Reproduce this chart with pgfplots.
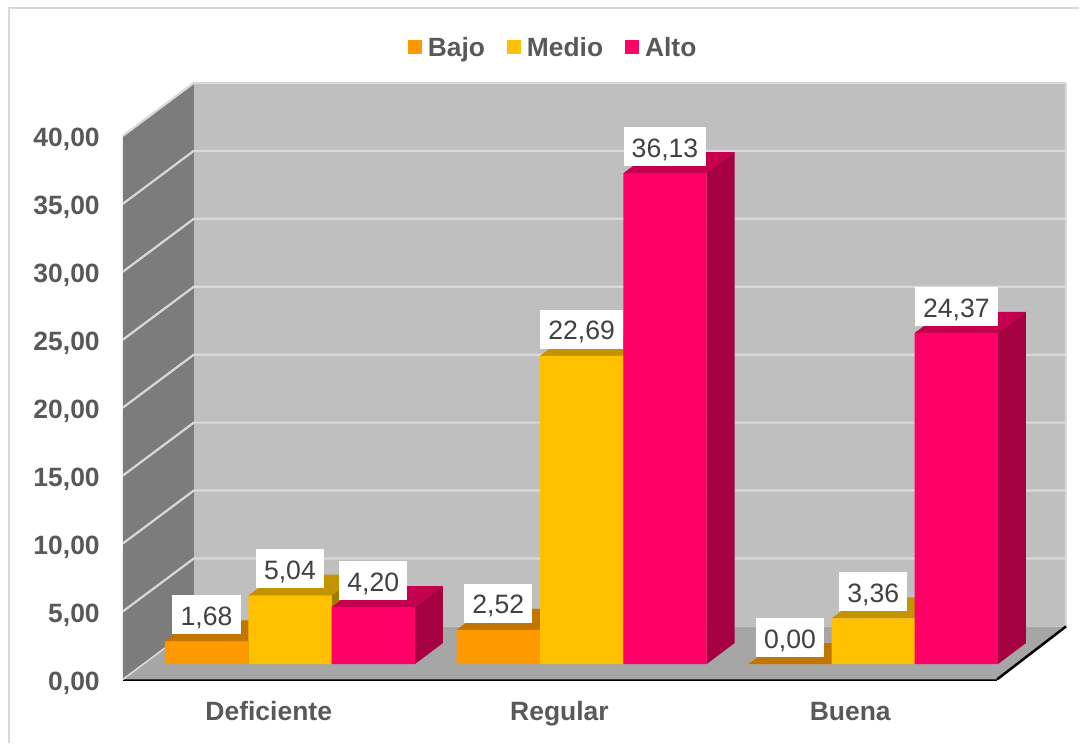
\documentclass[border=0pt]{standalone}
\usepackage{pgfplots}
\pgfplotsset{compat=1.18}
\usepackage{pgfplotstable}
\usepackage{fontspec}
\setmainfont{Liberation Sans}
\definecolor{txt}{HTML}{595959}
\definecolor{lbl}{HTML}{404040}
\definecolor{wallback}{HTML}{BFBFBF}
\definecolor{wallside}{HTML}{7C7C7C}
\definecolor{floorc}{HTML}{A6A6A6}
\definecolor{gridc}{HTML}{D9D9D9}
\definecolor{framec}{HTML}{D9D9D9}
\definecolor{cbajo}{HTML}{FF9900}
\definecolor{cbajot}{HTML}{C27500}
\definecolor{cbajos}{HTML}{A56300}
\definecolor{cmedio}{HTML}{FFC000}
\definecolor{cmediot}{HTML}{C49300}
\definecolor{cmedios}{HTML}{A57C00}
\definecolor{calto}{HTML}{FF0066}
\definecolor{caltot}{HTML}{C4004F}
\definecolor{caltos}{HTML}{A50042}
\pgfplotstableread{
x y
206.7 1.68
498.7 2.52
790.7 0.00
}\tbajo
\pgfplotstableread{
x y
290.2 5.04
582.2 22.69
874.0 3.36
}\tmedio
\pgfplotstableread{
x y
373.6 4.20
665.6 36.13
957.2 24.37
}\talto
\newcommand\barfaces[4]{%
  \pgfmathsetmacro\xa{#1-41.65}\pgfmathsetmacro\xb{#1+41.65}%
  \pgfmathsetmacro\xc{\xa+28}\pgfmathsetmacro\xd{\xb+28}%
  \pgfmathsetmacro\vb{#2+1.544}\pgfmathsetmacro\zb{1.544}%
  \addplot[fill=#3,draw=none,forget plot] coordinates {(\xa,#2)(\xb,#2)(\xd,\vb)(\xc,\vb)(\xa,#2)};
  \addplot[fill=#4,draw=none,forget plot] coordinates {(\xb,0)(\xd,\zb)(\xd,\vb)(\xb,#2)(\xb,0)};
}
\tikzset{
  nf/.style={/pgf/number format/fixed,/pgf/number format/fixed zerofill,/pgf/number format/precision=2,/pgf/number format/use comma,/pgf/number format/assume math mode=true},
}
\pgfplotsset{
  frontbar/.style={ybar,bar width=83.3pt,bar shift=0pt,draw=none,fill=#1},
  vallabel/.style={only marks,mark=none,forget plot,point meta=y,nodes near coords,
    every node near coord/.append style={nf,anchor=south,yshift=7pt,fill=white,text=lbl,
      font=\fontsize{26.6}{30}\selectfont,inner xsep=8.2pt,inner ysep=0pt,text height=30.3pt,text depth=8.7pt}},
}
\begin{document}
\begin{tikzpicture}
\begin{axis}[
  x=1pt,y=13.6pt,xmin=123,xmax=998,ymin=0,ymax=40,clip=false,
  axis x line*=bottom,axis y line*=left,
  x axis line style={draw=black,line width=2.5pt,-},
  y axis line style={draw=none},
  major tick length=0pt,tick style={draw=none},
  ytick={0,5,...,40},scaled y ticks=false,
  xtick={269,560,851},xticklabels={Deficiente,Regular,Buena},
  y tick label style={nf,anchor=base east,inner sep=0pt,xshift=-23pt,yshift=-11pt,
    text=txt,font=\fontsize{26.5}{30}\selectfont\bfseries},
  x tick label style={anchor=base,inner sep=0pt,yshift=-41pt,
    text=txt,font=\fontsize{26.5}{30}\selectfont\bfseries},
]
\path (axis cs:0,50) (axis cs:1080,-4.70588);
\draw[framec,line width=2pt] (axis cs:9,-4.70588) -- (axis cs:9,49.41) -- (axis cs:1080,49.41);
\fill[wallback] (axis cs:194,3.897) rectangle (axis cs:1067,43.897);
\fill[wallside] (axis cs:123,0) -- (axis cs:194,3.897) -- (axis cs:194,43.897) -- (axis cs:123,40) -- cycle;
\fill[floorc] (axis cs:123,0) -- (axis cs:998,0) -- (axis cs:1067,3.897) -- (axis cs:194,3.897) -- cycle;
\pgfplotsinvokeforeach{5,10,15,20,25,30,35,40}{
  \draw[gridc,line width=2.2pt] (axis cs:123,#1) -- (axis cs:194,#1+3.897) -- (axis cs:1067,#1+3.897);
}
\draw[gridc,line width=1.6pt] (axis cs:123,0) -- (axis cs:194,3.897);
\draw[gridc,line width=1.6pt] (axis cs:1067,43.897) -- (axis cs:1067,3.897);
\draw[black,line width=2.5pt] (axis cs:998,0) -- (axis cs:1067,3.897);
\end{axis}
\begin{axis}[
  at={(0pt,15.3pt)},anchor=south west,
  x=1pt,y=13.6pt,xmin=123,xmax=998,ymin=0,ymax=40,clip=false,hide axis,
  legend columns=3,
  legend style={at={(0.491,1.135)},anchor=center,draw=none,fill=none,
    font=\fontsize{26.4}{30}\selectfont\bfseries,text=txt,
    nodes={inner sep=0pt},
    /tikz/every even column/.append style={column sep=22pt},
    /tikz/every odd column/.append style={column sep=6pt}},
  legend image code/.code={\fill[#1,draw=none] (0pt,-7pt) rectangle (14pt,7pt);},
]
\barfaces{206.7}{1.68}{cbajot}{cbajos}
\barfaces{498.7}{2.52}{cbajot}{cbajos}
\barfaces{790.7}{0.00}{cbajot}{cbajos}
\addplot[frontbar=cbajo] table[x=x,y=y] {\tbajo};
\addlegendentry{Bajo}
\barfaces{290.2}{5.04}{cmediot}{cmedios}
\barfaces{582.2}{22.69}{cmediot}{cmedios}
\barfaces{874.0}{3.36}{cmediot}{cmedios}
\addplot[frontbar=cmedio] table[x=x,y=y] {\tmedio};
\addlegendentry{Medio}
\barfaces{373.6}{4.20}{caltot}{caltos}
\barfaces{665.6}{36.13}{caltot}{caltos}
\barfaces{957.2}{24.37}{caltot}{caltos}
\addplot[frontbar=calto] table[x=x,y=y] {\talto};
\addlegendentry{Alto}
\addplot[vallabel] table[x=x,y=y] {\tbajo};
\addplot[vallabel] table[x=x,y=y] {\tmedio};
\addplot[vallabel] table[x=x,y=y] {\talto};
\end{axis}
\end{tikzpicture}
\end{document}
